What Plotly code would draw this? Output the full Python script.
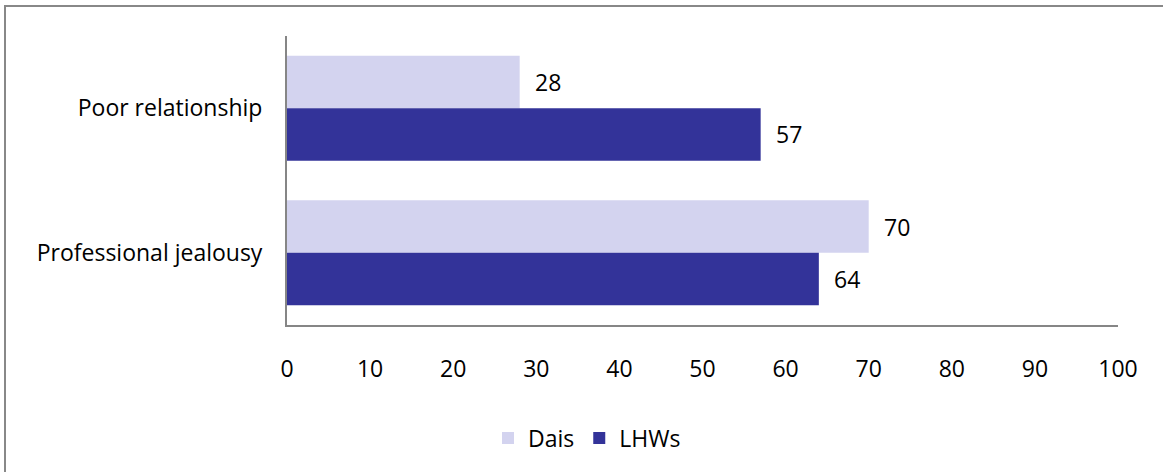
import plotly.graph_objects as go

categories = ["Poor relationship", "Professional jealousy"]
dais = [28, 70]
lhws = [57, 64]
x_ticks = [0, 10, 20, 30, 40, 50, 60, 70, 80, 90, 100]

W, H = 1163, 472
ML, MR, MT, MB = 287, 45, 36, 147
PW, PH = W - ML - MR, H - MT - MB

FONT = "Open Sans, sans-serif"
FS = 23
fig = go.Figure()
fig.add_trace(go.Bar(y=categories, x=dais, name="Dais", orientation="h",
                     marker=dict(color="#D3D3EF", line=dict(width=0))))
fig.add_trace(go.Bar(y=categories, x=lhws, name="LHWs", orientation="h",
                     marker=dict(color="#333399", line=dict(width=0))))

# value labels to the right of each bar
for trace_idx, vals in enumerate([dais, lhws]):
    for cat_idx, v in enumerate(vals):
        fig.add_annotation(x=v, y=cat_idx + (-0.18 if trace_idx == 0 else 0.18),
                           xref="x", yref="y", text=str(v), showarrow=False,
                           xanchor="left", yanchor="middle", xshift=13,
                           font=dict(size=FS, color="#000000", family=FONT))

# outer chart border
x0 = (5 - ML) / PW
y1 = 1 + (MT - 6) / PH
fig.add_shape(type="rect", xref="paper", yref="paper",
              x0=x0, x1=(W + 5 - ML) / PW, y0=-(MB + 5) / PH, y1=y1,
              line=dict(color="#888888", width=2), layer="below")

fig.update_layout(
    width=W, height=H,
    margin=dict(l=ML, r=MR, t=MT, b=MB),
    barmode="group", bargap=0.273, bargroupgap=0,
    plot_bgcolor="white", paper_bgcolor="white",
    font=dict(family=FONT, size=FS, color="#000000"),
    xaxis=dict(range=[0, 100], tickvals=x_ticks, showgrid=False, zeroline=False,
               showline=True, linecolor="#868686", linewidth=2, ticks="",
               ticklabelstandoff=22, tickfont=dict(size=FS)),
    yaxis=dict(categoryorder="array", categoryarray=categories,
               autorange="reversed", showgrid=False, zeroline=False,
               showline=True, linecolor="#868686", linewidth=2, ticks="",
               ticklabelstandoff=18, tickfont=dict(size=FS)),
    legend=dict(orientation="h", x=(587 - ML) / PW, xanchor="center",
                y=-(438 - MT - PH) / PH, yanchor="middle",
                font=dict(size=FS), itemwidth=30, traceorder="normal"),
    showlegend=True,
)

fig.write_html("out.html")
